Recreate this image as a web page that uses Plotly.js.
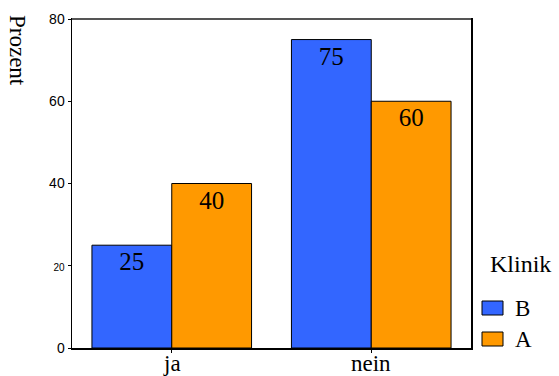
<!DOCTYPE html>
<html><head><meta charset="utf-8">
<script src="https://cdn.plot.ly/plotly-3.0.1.min.js"></script>
<style>html,body{margin:0;padding:0;background:#fff}#c{width:559px;height:376px}</style>
</head><body><div id="c"></div>
<script>
var categories = ['ja', 'nein'];
var seriesNames = ['B', 'A'];
var seriesColors = ['#3366FF', '#FF9900'];
var valuesB = [25, 75];
var valuesA = [40, 60];
var yTicks = [0, 20, 40, 60, 80];
var yTickLabels = ['0', '<span style="font-size:10px">20</span>', '40', '60', '80'];

var serif = '"Liberation Serif", "Times New Roman", serif';
function mk(vals, i) {
  return {type:'bar', x:categories, y:vals, name:seriesNames[i], text:vals.map(String),
    textposition:'inside', insidetextanchor:'end', constraintext:'none',
    textfont:{family:serif, size:25, color:'#000'},
    marker:{color:seriesColors[i], line:{color:'#000', width:1}}, hoverinfo:'none', showlegend:false};
}
var traces = [mk(valuesB, 0), mk(valuesA, 1)];

var ppx = function(px){ return (px - 72) / 399; };
var ppy = function(py){ return (348 - py) / 329; };

var annotations = [
  {text:'Prozent', xref:'paper', yref:'paper', x:ppx(18), y:ppy(50), xanchor:'center', yanchor:'middle',
    textangle:90, showarrow:false, font:{family:serif, size:23, color:'#000'}},
  {text:'Klinik', xref:'paper', yref:'paper', x:ppx(488), y:ppy(264), xanchor:'left', yanchor:'middle',
    showarrow:false, font:{family:serif, size:24, color:'#000'}}
];
categories.forEach(function(c){
  annotations.push({text:c, xref:'x', yref:'paper', x:c, y:0, yanchor:'top', yshift:-1,
    showarrow:false, font:{family:serif, size:23, color:'#000'}});
});
var shapes = [{type:'line', xref:'paper', yref:'paper', x0:0, x1:1, y0:1, y1:1, line:{color:'#555', width:2}}];
var legY = [308, 339];
seriesNames.forEach(function(n, i){
  shapes.push({type:'rect', xref:'paper', yref:'paper', x0:ppx(482), x1:ppx(503), y0:ppy(legY[i]-7), y1:ppy(legY[i]+7),
    fillcolor:seriesColors[i], line:{color:'#000', width:1}});
  annotations.push({text:n, xref:'paper', yref:'paper', x:ppx(513), y:ppy(legY[i]), xanchor:'left', yanchor:'middle',
    showarrow:false, font:{family:serif, size:23, color:'#000'}});
});

var layout = {
  width:559, height:376,
  margin:{l:72, r:88, t:19, b:28},
  paper_bgcolor:'#fff', plot_bgcolor:'#fff',
  barmode:'group', bargap:0.2, bargroupgap:0,
  showlegend:false,
  xaxis:{range:[-0.5,1.5], showgrid:false, zeroline:false, showline:true, linecolor:'#000', linewidth:1.5,
    mirror:true, ticks:'outside', ticklen:3, tickcolor:'#000', showticklabels:false, fixedrange:true},
  yaxis:{range:[0,80], tickvals:yTicks, ticktext:yTickLabels, showgrid:false, zeroline:false,
    showline:true, linecolor:'#000', linewidth:1.5, mirror:true, ticks:'outside', ticklen:3, tickcolor:'#000',
    tickfont:{family:'"Liberation Sans", Arial, sans-serif', size:14, color:'#000'}, fixedrange:true},
  shapes:shapes,
  annotations:annotations
};
Plotly.newPlot('c', traces, layout, {displayModeBar:false, staticPlot:true});
</script></body></html>
